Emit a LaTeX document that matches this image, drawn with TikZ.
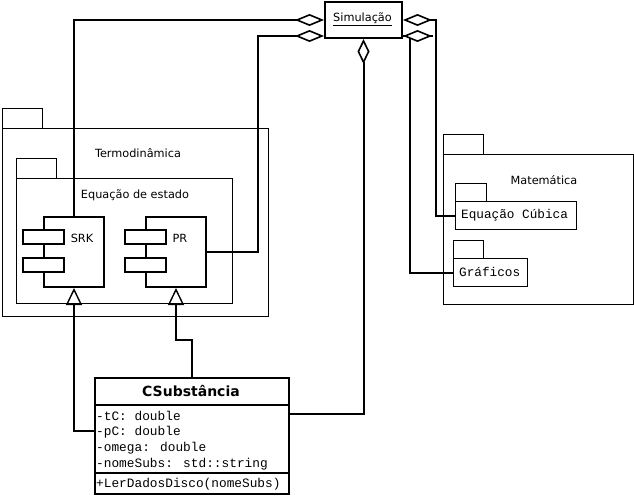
\documentclass[tikz,border=0pt]{standalone}
\usepackage{fontspec}
\setmainfont{DejaVu Sans}
\newfontfamily\monof{Liberation Mono}
\usetikzlibrary{arrows.meta}
\begin{document}
\begin{tikzpicture}[x=1pt,y=-1pt,
  box/.style={draw,fill=white,line width=1pt,inner sep=0pt,anchor=north west},
  hbox/.style={draw,fill=white,line width=2pt,inner sep=0pt,anchor=north west},
  conn/.style={line width=2pt},
  agg/.style={line width=2pt,{Diamond[fill=white,length=29pt,width=12pt,line width=1.6pt]}-},
  aggv/.style={line width=2pt,{Diamond[fill=white,length=25pt,width=12pt,line width=1.6pt]}-},
  gen/.style={line width=2pt,-{Triangle[open,length=17pt,width=16pt,line width=1.4pt]}},
  lbl/.style={inner sep=0pt,font=\fontsize{11.3pt}{13pt}\selectfont},
  mono/.style={inner sep=0pt,anchor=west,font=\monof\fontsize{12.8pt}{14pt}\selectfont},
]
\useasboundingbox (0,0) rectangle (634,495);
\fill[white] (0,0) rectangle (634,495);

% Termodinamica package
\node[box,minimum width=40pt,minimum height=20pt] (ttab) at (2,108) {};
\node[box,minimum width=266pt,minimum height=188pt] (termo) at (2,128) {};
\node[lbl] (termolbl) at (138,153) {Termodinâmica};
% Equacao de estado package
\node[box,minimum width=40pt,minimum height=20pt] (etab) at (16,158) {};
\node[box,minimum width=216pt,minimum height=125pt] (eqe) at (16,178) {};
\node[lbl] (eqelbl) at (135,195) {Equação de estado};
% SRK component
\node[hbox,minimum width=60pt,minimum height=70pt] (srk) at (43,216) {};
\node[hbox,minimum width=41pt,minimum height=14pt] (srka) at (22,229) {};
\node[hbox,minimum width=41pt,minimum height=14pt] (srkb) at (22,257) {};
\node[lbl] (srklbl) at (82,238) {SRK};
% PR component
\node[hbox,minimum width=60pt,minimum height=70pt] (pr) at (145,216) {};
\node[hbox,minimum width=41pt,minimum height=14pt] (pra) at (124,229) {};
\node[hbox,minimum width=41pt,minimum height=14pt] (prb) at (124,257) {};
\node[lbl] (prlbl) at (180,238) {PR};

% Matematica package
\node[box,minimum width=40pt,minimum height=20pt] (mtab) at (443,134) {};
\node[box,minimum width=190pt,minimum height=150pt] (mat) at (443,154) {};
\node[lbl] (matlbl) at (544,180) {Matemática};
\node[box,minimum width=31pt,minimum height=18pt] (eqctab) at (455,183) {};
\node[box,minimum width=121pt,minimum height=28pt] (eqc) at (455,201) {};
\node[mono,font=\monof\fontsize{12.7pt}{14pt}\selectfont] (eqclbl) at (461,215) {Equação Cúbica};
\node[box,minimum width=30pt,minimum height=18pt] (graftab) at (453,240) {};
\node[box,minimum width=74pt,minimum height=28pt] (graf) at (453,258) {};
\node[mono,font=\monof\fontsize{12.7pt}{14pt}\selectfont] (graflbl) at (459,272) {Gráficos};

% Simulacao
\node[hbox,minimum width=77pt,minimum height=36pt] (sim) at (324,1) {};
\node[lbl] (simlbl) at (362.5,19) {\underline{Simulação}};

% CSubstancia class
\node[hbox,minimum width=194pt,minimum height=116pt] (cs) at (94,377) {};
\draw[line width=2pt] (94,405) -- (288,405);
\draw[line width=2pt] (94,473) -- (288,473);
\node[inner sep=0pt,font=\bfseries\fontsize{14pt}{16pt}\selectfont] (csname) at (191,391) {CSubstância};
\node[mono] (a1) at (96,416) {-tC: double};
\node[mono] (a2) at (96,432) {-pC: double};
\node[mono] (a3) at (96,448) {-omega: double};
\node[mono] (a4) at (96,464) {-nomeSubs: std::string};
\node[mono] (m1) at (96,484) {+LerDadosDisco(nomeSubs)};

% connectors
\draw[conn] ([yshift=-16pt]sim.east) -- ++(7,0) |- (graf.west);
\draw[agg] ([yshift=-16pt]sim.east) -- ++(30,0);
\draw[agg] (sim.west) -| (srk.north);
\draw[agg] ([yshift=-16pt]sim.west) -- ++(-66,0) |- (pr.east);
\draw[agg] (sim.east) -- ++(33,0) |- (eqc.west);
\draw[aggv] (sim.south) |- ([yshift=-37pt]cs.north east);
\draw[gen] (cs.north) -- ++(0,-37) -| (pr.south);
\draw[gen] ([yshift=-54pt]cs.north west) -| (srk.south);
\end{tikzpicture}
\end{document}
